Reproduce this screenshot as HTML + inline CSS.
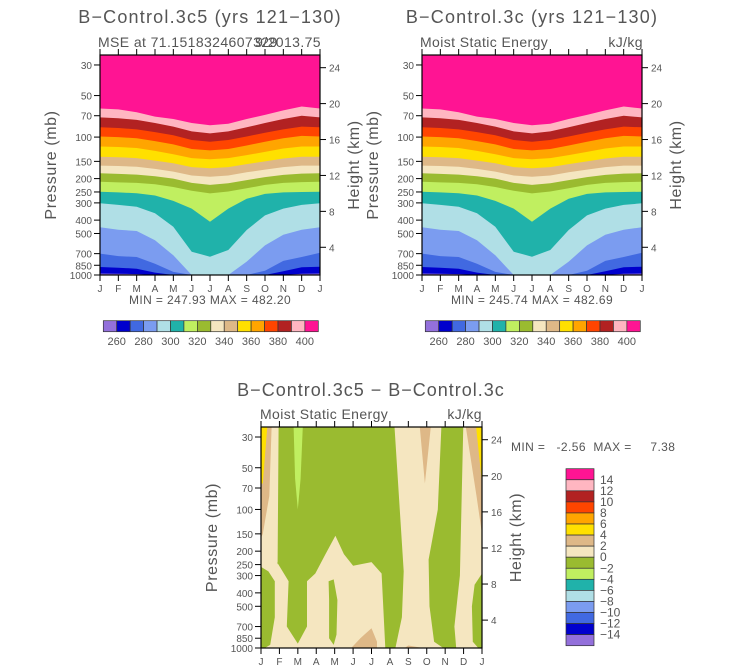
<!DOCTYPE html>
<html><head><meta charset="utf-8">
<style>
html,body{margin:0;padding:0;background:#fff;}
svg{display:block;font-family:"Liberation Sans",sans-serif;}
text{fill:#555;}
</style></head>
<body>
<svg id="chart" width="733" height="672" viewBox="0 0 733 672" xmlns="http://www.w3.org/2000/svg"></svg>
<script>
// ---------- data ----------
const months = ["J","F","M","A","M","J","J","A","S","O","N","D","J"];
const pressureTicks = [30,50,70,100,150,200,250,300,400,500,700,850,1000];
const heightTicks = [4,8,12,16,20,24];
const mseLevels = [260,270,280,290,300,310,320,330,340,350,360,370,380,390,400];
const mseColorLabels = [260,280,300,320,340,360,380,400];
const colors = ["#9370db","#0000cd","#4169e1","#7b9cf0","#b0dfe6","#20b2aa","#c0ef60","#9abb30","#f5e6c0","#deb887","#ffe000","#ffa500","#ff4500","#b22222","#ffb6c1","#ff1493"];
// boundary pressure (mb) per level, months J..J
const b260 = [975,978,985,1000,1000,1000,1000,1000,1000,1000,1000,980,975];
const b270 = [875,885,900,960,1000,1000,1000,1000,1000,1000,940,880,870];
const b280 = [700,730,740,830,950,1000,1000,1000,1000,930,790,740,690];
const b290 = [450,470,480,560,720,1000,1000,1000,800,610,510,470,450];
const b300 = [302,310,320,357,447,678,737,659,472,370,330,310,302];
const b310 = [249,252,255,265,290,330,411,330,280,258,252,250,249];
const b320 = [211,213,215,220,230,245,256,248,235,222,215,212,211];
const b330 = [183,185,187,192,200,215,222,216,205,195,188,184,183];
const b340 = [161,162,164,170,178,190,194,190,180,172,165,161,161];
const b350 = [139,140,142,148,155,165,168,165,157,150,143,139,139];
const b360 = [117,118,120,126,133,142,145,142,135,128,121,117,117];
const b370 = [99,100,102,107,113,122,125,122,115,108,102,98,99];
const b380 = [85,86,88,92,97,105,108,105,99,93,88,84,85];
const b390 = [72,73,75,79,84,91,94,91,85,79,74,70,72];
const b400 = [62,63,66,71,74,79,82,80,74,69,64,60,62];
const boundaries = [b260,b270,b280,b290,b300,b310,b320,b330,b340,b350,b360,b370,b380,b390,b400];
const diffLabels = [14,12,10,8,6,4,2,0,-2,-4,-6,-8,-10,-12,-14];
// difference regions: [month, pressure] polygons
const diffBase = "#f5e6c0";
const diffGreen1 = [[0.96,20],[0.9,250],[0.87,240],[1.5,330],[1.4,700],[2.0,930],[2.5,700],[2.5,330],[2.95,290],[3.5,210],[4.04,155],[4.5,210],[5.0,255],[6.0,240],[6.55,290],[6.75,1000],[7.3,1000],[7.65,600],[7.75,280],[7.2,20]];
const diffLight1 = [[1.75,20],[1.85,60],[2.0,100],[2.15,60],[2.3,20]];
const diffGreen2 = [[3.67,330],[3.95,320],[4.15,450],[4.1,800],[3.95,950],[3.7,850],[3.7,450]];
const diffGreen3 = [[9.83,20],[9.6,100],[9.1,230],[9.15,500],[9.4,900],[9.9,1000],[10.6,1000],[10.5,700],[10.8,300],[11.0,20]];
const diffGreen4 = [[0,260],[0.4,280],[0.75,330],[0.75,600],[0.5,950],[0.2,1000],[0,1000]];
const diffGreen5 = [[12,290],[11.6,350],[11.45,500],[11.5,900],[11.8,1000],[12,1000]];
const diffTan1 = [[0,20],[0.6,20],[0.45,80],[0.1,150],[0,160]];
const diffTan2 = [[8.55,20],[9.3,20],[8.9,65]];
const diffTan3 = [[11.0,20],[11.7,20],[12,60],[12,150],[11.7,80]];
const diffTan4 = [[4.9,1000],[5.4,850],[6.0,720],[6.3,900],[6.3,1000]];
const diffTan5 = [[7.8,1000],[8.0,960],[8.8,1000]];
const diffYel1 = [[0,20],[0.4,20],[0.1,65],[0,65]];
const diffYel2 = [[11.6,20],[12,20],[12,65]];

// ---------- helpers ----------
const NS="http://www.w3.org/2000/svg";
const svg=document.getElementById('chart');
function mk(tag,attrs,parent,txt){const e=document.createElementNS(NS,tag);for(const k in attrs)e.setAttribute(k,attrs[k]);if(txt!==undefined)e.textContent=txt;(parent||svg).appendChild(e);return e;}

function makeAxes(x0,y0,x1,y1){
  const k=(y1-y0)/Math.log10(1000/25.4);
  return {x0,y0,x1,y1,
    xs:m=>x0+m*(x1-x0)/12,
    ys:p=>y1-k*Math.log10(1000/p),
    hs:h=>y1+8.2-h*(y1-y0)/24.5};
}
function drawFrame(ax,g,name){
  const fr=mk('rect',{x:ax.x0,y:ax.y0,width:ax.x1-ax.x0,height:ax.y1-ax.y0,fill:'none',stroke:'#000','stroke-width':1.2},g);
  
  
  months.forEach((m,i)=>{
    const x=ax.xs(i);
    mk('line',{x1:x,y1:ax.y1,x2:x,y2:ax.y1+6,stroke:'#000'},g);
    mk('line',{x1:x,y1:ax.y0,x2:x,y2:ax.y0-6,stroke:'#000'},g);
    const t=mk('text',{x:x,y:ax.y1+17,'font-size':10,'text-anchor':'middle'},g,m);
    
    
  });
  pressureTicks.forEach(p=>{
    const y=ax.ys(p);
    mk('line',{x1:ax.x0-6,y1:y,x2:ax.x0,y2:y,stroke:'#000'},g);
    const t=mk('text',{x:ax.x0-8,y:y+4,'font-size':10,'text-anchor':'end'},g,p);
    
    
  });
  heightTicks.forEach(h=>{
    const y=ax.hs(h);
    mk('line',{x1:ax.x1,y1:y,x2:ax.x1+6,y2:y,stroke:'#000'},g);
    const t=mk('text',{x:ax.x1+9,y:y+4,'font-size':10},g,h);
    
    
  });
  const cy=(ax.y0+ax.y1)/2;
  const yl=mk('text',{x:ax.x0-44,y:cy,'font-size':16,'letter-spacing':0.6,'text-anchor':'middle',transform:`rotate(-90 ${ax.x0-44} ${cy})`},g,'Pressure (mb)');
  
  
  const yr=mk('text',{x:ax.x1+39,y:cy,'font-size':16,'letter-spacing':0.6,'text-anchor':'middle',transform:`rotate(-90 ${ax.x1+39} ${cy})`},g,'Height (km)');
  
  
}
function clip(ax,id){
  const d=mk('defs',{});const c=mk('clipPath',{id},d);
  mk('rect',{x:ax.x0,y:ax.y0,width:ax.x1-ax.x0,height:ax.y1-ax.y0},c);
}
function polyStr(ax,pts){return pts.map(p=>ax.xs(p[0]).toFixed(1)+','+ax.ys(p[1]).toFixed(1)).join(' ');}

function msePanel(x0,title,subL,subR,minmax,name){
  const ax=makeAxes(x0,55,x0+220,275);
  const g=mk('g',{});
  
  
  const cid=name+'-clip';clip(ax,cid);
  const pg=mk('g',{'clip-path':`url(#${cid})`},g);
  mk('rect',{x:ax.x0,y:ax.y0,width:220,height:220,fill:colors[0]},pg);
  boundaries.forEach((b,i)=>{
    const pts=b.map((p,m)=>[m,Math.min(p,1010)]);
    pts.push([12,10]);pts.push([0,10]);
    const e=mk('polygon',{points:polyStr(ax,pts),fill:colors[i+1]},pg);
    
    
  });
  drawFrame(ax,g,name);
  const t=mk('text',{x:x0+110,y:23,'font-size':18,'letter-spacing':1.2,'text-anchor':'middle'},g,title);
  
  
  const s=mk('text',{x:x0-2,y:47,'font-size':14,'letter-spacing':0.4},g,subL);
  
  
  const s2=mk('text',{x:x0+221,y:47,'font-size':14,'letter-spacing':0.4,'text-anchor':'end'},g,subR);
  
  
  const mm=mk('text',{x:x0+110,y:304,'font-size':12,'letter-spacing':0.4,'text-anchor':'middle'},g,minmax);
  
  
  // colorbar
  const cb=mk('g',{},g);
  
  
  const bx=x0+3.3,bw=215/16;
  colors.forEach((c,i)=>{
    const r=mk('rect',{x:bx+i*bw,y:320.7,width:bw,height:11,fill:c,stroke:'#333','stroke-width':0.7},cb);
    
    
  });
  mseColorLabels.forEach((v,i)=>{
    const idx=mseLevels.indexOf(v)+1;
    const t=mk('text',{x:bx+idx*bw,y:345,'font-size':11,'text-anchor':'middle'},cb,v);
    
    
  });
}
msePanel(100,'B\u2212Control.3c5 (yrs 121\u2212130)','MSE at 71.1518324607329','9/2013.75','MIN = 247.93  MAX = 482.20','panel-left');
msePanel(422,'B\u2212Control.3c (yrs 121\u2212130)','Moist Static Energy','kJ/kg','MIN = 245.74  MAX = 482.69','panel-right');

// difference panel
(function(){
  const ax=makeAxes(261,427,482,648);
  const g=mk('g',{});
  
  
  clip(ax,'diff-clip');
  const pg=mk('g',{'clip-path':'url(#diff-clip)'},g);
  mk('rect',{x:ax.x0,y:ax.y0,width:ax.x1-ax.x0,height:ax.y1-ax.y0,fill:diffBase},pg);
  const regions=[[diffGreen1,'#9abb30'],[diffLight1,'#c0ef60'],[diffGreen2,'#9abb30'],[diffGreen3,'#9abb30'],[diffGreen4,'#9abb30'],[diffGreen5,'#9abb30'],[diffTan1,'#deb887'],[diffTan2,'#deb887'],[diffTan3,'#deb887'],[diffTan4,'#deb887'],[diffTan5,'#deb887'],[diffYel1,'#ffe000'],[diffYel2,'#ffe000']];
  regions.forEach(r=>{
    const e=mk('polygon',{points:polyStr(ax,r[0]),fill:r[1]},pg);
    
    
  });
  drawFrame(ax,g,'difference');
  const t=mk('text',{x:371,y:396,'font-size':18,'letter-spacing':1.0,'text-anchor':'middle'},g,'B\u2212Control.3c5 \u2212 B\u2212Control.3c');
  
  
  const s=mk('text',{x:260,y:419,'font-size':14,'letter-spacing':0.4},g,'Moist Static Energy');
  
  
  const s2=mk('text',{x:482,y:419,'font-size':14,'letter-spacing':0.4,'text-anchor':'end'},g,'kJ/kg');
  
  
  const mm=mk('text',{x:511,y:451,'font-size':12,'letter-spacing':0.4},g,'MIN =   -2.56  MAX =     7.38');
  
  
  mm.style.whiteSpace='pre';
  const cb=mk('g',{},g);
  
  
  const by=468.7,bh=177/16;
  colors.slice().reverse().forEach((c,i)=>{
    const r=mk('rect',{x:566,y:by+i*bh,width:28,height:bh,fill:c,stroke:'#333','stroke-width':0.7},cb);
    
    
  });
  diffLabels.forEach((v,i)=>{
    const t=mk('text',{x:600,y:by+(i+1)*bh+4,'font-size':12},cb,v<0?'\u2212'+(-v):v);
    
    
  });
})();
</script>
</body></html>
